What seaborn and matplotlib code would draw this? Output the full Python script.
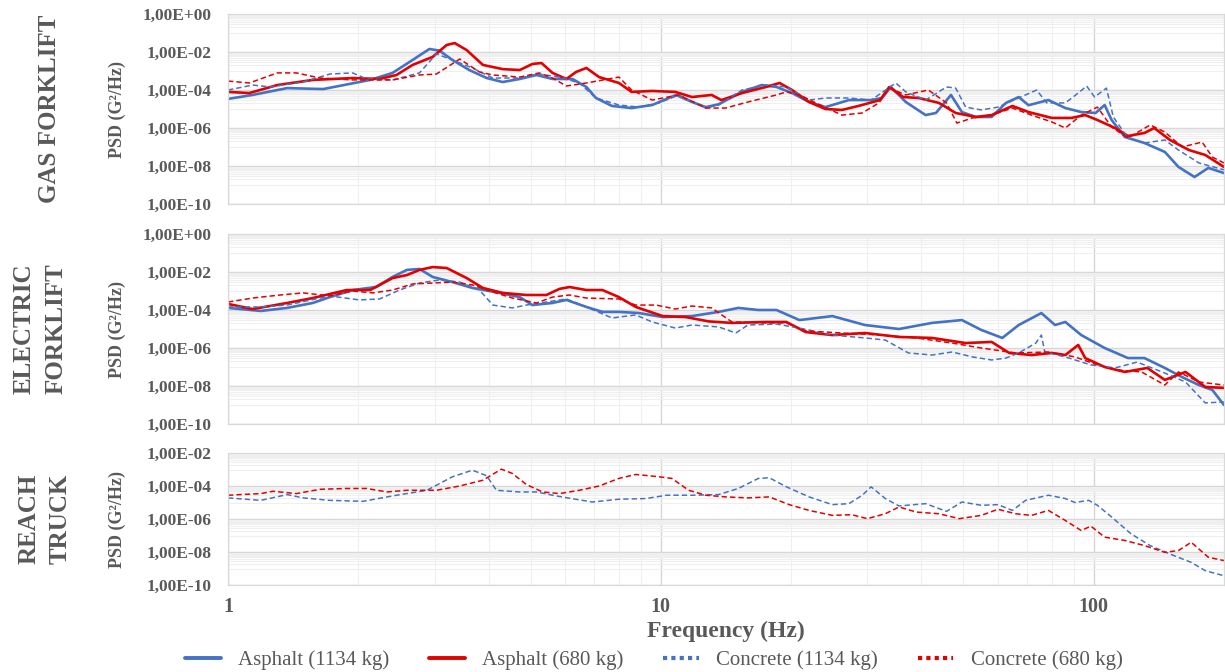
import numpy as np
import pandas as pd
import matplotlib
matplotlib.use("Agg")
import matplotlib.pyplot as plt
from matplotlib.lines import Line2D
import seaborn as sns

sns.set_theme(style="whitegrid")
plt.rcParams["font.family"] = ["Liberation Serif", "DejaVu Serif"]

BLUE = "#4472C4"
RED = "#E30000"
GREY = "#595959"

# ── Data: frequency (Hz) and log10 of PSD (G²/Hz) ──
# GAS FORKLIFT
gas_asph_1134_hz = [1, 1.14, 1.37, 1.66, 1.94, 2.13, 2.4, 2.67, 2.92, 3.08, 3.3, 3.61, 3.96, 4.31, 4.72,
                    5.16, 5.62, 6.25, 6.73, 7.08, 7.71, 8.56, 9.55, 10.84, 11.8, 12.7, 13.6, 15.4, 17.1,
                    18.5, 20.1, 22.0, 24.0, 27.2, 30.6, 32.4, 34.0, 36.8, 40.9, 43.2, 46.8, 49.6, 53.4,
                    58.1, 62.7, 67.1, 70.7, 78.6, 86.0, 93.6, 101, 106, 110, 118, 131, 146, 157, 171, 184, 200]
gas_asph_1134_log = [-4.47, -4.26, -3.9, -3.95, -3.65, -3.47, -3.1, -2.42, -1.84, -1.93, -2.42, -2.95, -3.37,
                     -3.58, -3.42, -3.21, -3.42, -3.42, -3.84, -4.42, -4.84, -4.95, -4.79, -4.26, -4.63, -4.9,
                     -4.75, -4.1, -3.74, -3.84, -4.16, -4.63, -4.9, -4.53, -4.53, -4.42, -3.84, -4.63, -5.32,
                     -5.21, -4.26, -5.16, -5.42, -5.42, -4.68, -4.37, -4.8, -4.53, -4.95, -5.16, -5.21, -4.79,
                     -5.58, -6.47, -6.79, -7.26, -8.05, -8.58, -8.1, -8.37]

gas_asph_680_hz = [1, 1.12, 1.3, 1.57, 1.94, 2.24, 2.45, 2.67, 2.97, 3.2, 3.34, 3.56, 3.88, 4.31, 4.72, 5.05,
                   5.3, 5.62, 6.05, 6.37, 6.73, 7.2, 8.0, 8.56, 9.55, 10.8, 11.8, 13.1, 13.8, 15.4, 17.5,
                   18.8, 20.1, 22.0, 24.0, 26.2, 28.6, 32.1, 33.7, 36.3, 39.4, 43.9, 48.0, 53.4, 58.1, 64.9,
                   70.7, 80.0, 88.8, 95.6, 102, 112, 120, 131, 138, 150, 166, 181, 200]
gas_asph_680_log = [-4.1, -4.16, -3.74, -3.47, -3.37, -3.42, -3.21, -2.68, -2.26, -1.63, -1.53, -1.9, -2.68,
                    -2.9, -2.95, -2.63, -2.58, -3.1, -3.42, -3.05, -2.84, -3.32, -3.63, -4.1, -4.05, -4.1,
                    -4.37, -4.26, -4.53, -4.16, -3.84, -3.63, -4.0, -4.63, -5.0, -5.05, -4.84, -4.53, -3.84,
                    -4.37, -4.42, -4.68, -5.21, -5.42, -5.32, -4.84, -5.16, -5.47, -5.47, -5.32, -5.58, -6.0,
                    -6.42, -6.26, -6.0, -6.63, -7.16, -7.42, -8.05]

gas_conc_1134_hz = [1, 1.14, 1.25, 1.49, 1.72, 1.94, 2.09, 2.4, 2.77, 3.03, 3.3, 3.67, 4.09, 4.72, 5.24,
                    5.83, 6.48, 7.08, 8.0, 8.9, 9.9, 11.0, 12.7, 13.6, 15.4, 17.5, 19.5, 22.0, 24.0, 27.2,
                    30.6, 34.9, 36.8, 40.9, 45.7, 48.0, 50.6, 55.0, 60.1, 67.1, 73.8, 77.9, 86.0, 92.1, 96.3,
                    100.5, 107, 111, 120, 131, 146, 157, 175, 200]
gas_conc_1134_log = [-4.0, -3.74, -3.84, -3.58, -3.16, -3.1, -3.42, -3.47, -3.1, -2.1, -2.42, -2.84, -3.37,
                     -3.37, -3.16, -3.32, -3.63, -4.42, -4.79, -4.9, -4.68, -4.26, -4.95, -4.79, -4.0, -3.74,
                     -3.84, -4.53, -4.42, -4.42, -4.53, -3.63, -4.1, -4.53, -3.84, -3.9, -4.9, -5.05, -4.9,
                     -4.42, -4.0, -4.68, -4.68, -4.16, -3.79, -4.37, -3.9, -5.42, -6.53, -6.79, -6.63, -7.16,
                     -7.84, -8.2]

gas_conc_680_hz = [1, 1.12, 1.3, 1.44, 1.63, 1.94, 2.4, 2.77, 3.03, 3.43, 3.81, 4.09, 4.72, 5.24, 5.62,
                   6.05, 6.73, 8.0, 8.56, 9.55, 11.0, 12.7, 14.1, 15.9, 18.5, 19.5, 20.9, 22.8, 26.2, 29.2,
                   31.9, 33.7, 36.8, 41.5, 45.7, 48.3, 52.5, 58.1, 64.9, 71.8, 80, 86, 93.6, 102, 110, 120,
                   135, 146, 160, 178, 188, 200]
gas_conc_680_log = [-3.53, -3.63, -3.1, -3.1, -3.37, -3.47, -3.47, -3.21, -3.16, -2.37, -3.05, -3.21, -3.32,
                    -3.1, -3.37, -3.79, -3.63, -3.32, -4.0, -4.53, -4.26, -4.95, -4.95, -4.63, -4.26, -4.1,
                    -4.26, -4.68, -5.32, -5.21, -4.68, -3.9, -4.26, -4.0, -4.68, -5.74, -5.47, -5.32, -4.95,
                    -5.32, -5.68, -6.0, -5.32, -4.9, -5.95, -6.53, -5.84, -6.21, -7.0, -6.74, -7.53, -7.84]

# ELECTRIC FORKLIFT
ele_asph_1134_hz = [1, 1.19, 1.37, 1.57, 1.72, 1.94, 2.2, 2.4, 2.59, 2.77, 2.97, 3.3, 3.67, 4.24, 4.72,
                    5.05, 5.62, 6.05, 6.73, 7.33, 8.0, 8.9, 10.1, 11.8, 13.6, 15.1, 16.8, 18.5, 20.9, 24.9,
                    29.6, 35.5, 42.3, 49.6, 55.0, 61.5, 67.1, 75.7, 81.4, 86.0, 93.6, 106, 120, 131, 146,
                    160, 175, 188, 200]
ele_asph_1134_log = [-3.89, -4.05, -3.89, -3.63, -3.32, -2.95, -2.79, -2.26, -1.89, -1.84, -2.26, -2.53,
                     -2.84, -3.1, -3.32, -3.74, -3.63, -3.47, -3.84, -4.1, -4.1, -4.16, -4.37, -4.32, -4.1,
                     -3.89, -4.0, -4.0, -4.53, -4.32, -4.79, -5.0, -4.68, -4.53, -5.05, -5.47, -4.79, -4.16,
                     -4.79, -4.63, -5.32, -6.0, -6.53, -6.53, -7.05, -7.53, -7.95, -8.21, -9.0]

ele_asph_680_hz = [1, 1.14, 1.37, 1.57, 1.88, 2.13, 2.24, 2.4, 2.59, 2.77, 2.97, 3.2, 3.56, 3.88, 4.31,
                   4.89, 5.44, 5.83, 6.15, 6.73, 7.33, 8.0, 8.75, 10.1, 11.4, 12.9, 14.6, 17.5, 19.5, 21.6,
                   24.9, 29.6, 35.5, 42.3, 50.6, 58.1, 63.8, 71.8, 80, 86, 92.1, 95.6, 106, 118, 133, 146,
                   163, 181, 200]
ele_asph_680_log = [-3.68, -3.95, -3.63, -3.37, -2.95, -2.95, -2.68, -2.32, -2.16, -1.89, -1.74, -1.79,
                    -2.32, -2.84, -3.1, -3.21, -3.21, -2.89, -2.79, -2.95, -2.95, -3.32, -3.84, -4.32, -4.37,
                    -4.6, -4.68, -4.63, -4.63, -5.16, -5.32, -5.21, -5.42, -5.47, -5.74, -5.68, -6.26, -6.37,
                    -6.26, -6.37, -5.84, -6.53, -7.0, -7.26, -7.05, -7.68, -7.26, -8.05, -8.1]

ele_conc_1134_hz = [1, 1.19, 1.37, 1.72, 2.01, 2.24, 2.49, 2.77, 3.08, 3.43, 3.81, 4.09, 4.54, 4.89, 5.44,
                    6.05, 6.73, 7.71, 8.75, 9.55, 10.8, 11.8, 13.6, 14.9, 15.9, 18.5, 20.9, 24.9, 29.6, 33.0,
                    37.3, 42.3, 47.1, 52.5, 58.1, 62.7, 67.1, 73.5, 75.7, 77.1, 86.0, 98.5, 112, 126, 146,
                    163, 181, 200]
ele_conc_1134_log = [-3.84, -3.84, -3.74, -3.26, -3.47, -3.42, -2.95, -2.58, -2.42, -2.53, -2.95, -3.74,
                     -3.89, -3.74, -3.58, -3.42, -3.84, -4.42, -4.26, -4.63, -4.95, -4.79, -4.89, -5.21,
                     -4.79, -4.74, -4.95, -5.32, -5.47, -5.58, -6.26, -6.37, -6.21, -6.47, -6.63, -6.53,
                     -6.26, -5.74, -5.32, -6.21, -6.47, -6.89, -7.05, -6.74, -7.32, -7.79, -8.89, -8.84]

ele_conc_680_hz = [1, 1.14, 1.32, 1.49, 1.72, 1.94, 2.16, 2.4, 2.67, 2.97, 3.3, 3.67, 4.09, 4.54, 5.16,
                   5.62, 6.15, 6.73, 8.0, 8.75, 9.75, 10.8, 11.8, 13.1, 14.6, 17.5, 19.5, 21.6, 26.2, 32.4,
                   38.9, 47.1, 55.0, 66.0, 78.6, 90.5, 102, 114, 129, 146, 157, 175, 200]
ele_conc_680_log = [-3.58, -3.37, -3.21, -3.1, -3.26, -3.0, -3.1, -2.95, -2.63, -2.58, -2.53, -2.68, -3.05,
                    -3.37, -3.63, -3.32, -3.21, -3.37, -3.42, -3.74, -3.74, -3.95, -3.79, -3.89, -4.63,
                    -4.68, -4.68, -5.1, -5.21, -5.32, -5.47, -5.74, -6.0, -6.26, -6.21, -6.47, -6.89, -7.16,
                    -7.26, -7.95, -7.26, -7.79, -7.95]

# REACH TRUCK (concrete only)
reach_conc_1134_hz = [1.0, 1.19, 1.37, 1.49, 1.72, 2.05, 2.4, 2.88, 3.3, 3.67, 3.96, 4.17, 4.72, 5.16, 5.62,
                      6.15, 6.95, 8.0, 9.24, 10.3, 11.8, 13.6, 15.1, 16.8, 17.8, 19.5, 22.0, 24.9, 27.2,
                      29.2, 30.6, 33.0, 35.5, 40.9, 45.7, 49.6, 55.0, 60.1, 64.9, 69.6, 78.6, 86.0, 90.5,
                      97.4, 102, 110, 122, 135, 150, 168, 181, 200]
reach_conc_1134_log = [-4.72, -4.87, -4.52, -4.72, -4.87, -4.93, -4.6, -4.26, -3.44, -3.04, -3.38, -4.26,
                       -4.36, -4.36, -4.56, -4.74, -4.97, -4.8, -4.76, -4.56, -4.56, -4.52, -4.15, -3.54,
                       -3.5, -4.05, -4.66, -5.13, -5.07, -4.56, -4.05, -4.76, -5.21, -5.07, -5.54, -4.97,
                       -5.17, -5.13, -5.48, -4.87, -4.56, -4.76, -5.0, -4.87, -5.17, -5.88, -6.9, -7.61,
                       -8.12, -8.63, -9.13, -9.44]

reach_conc_680_hz = [1.0, 1.19, 1.27, 1.44, 1.63, 1.88, 2.09, 2.33, 2.59, 3.03, 3.43, 3.88, 4.28, 4.54, 4.89,
                     5.33, 5.83, 6.48, 7.2, 8.0, 8.75, 9.9, 10.6, 11.6, 12.7, 14.1, 15.9, 17.8, 19.8, 22.0,
                     24.9, 27.6, 30.0, 33.0, 35.5, 38.9, 43.9, 48.9, 55.0, 60.1, 66.0, 71.8, 78.6, 86.0,
                     93.6, 98.5, 106, 118, 131, 146, 157, 168, 184, 200]
reach_conc_680_log = [-4.56, -4.46, -4.32, -4.46, -4.2, -4.15, -4.15, -4.36, -4.26, -4.26, -4.0, -3.65,
                      -2.98, -3.24, -3.91, -4.36, -4.46, -4.26, -4.0, -3.54, -3.3, -3.44, -3.54, -4.26,
                      -4.56, -4.66, -4.72, -4.66, -5.13, -5.48, -5.78, -5.74, -5.98, -5.68, -5.27, -5.58,
                      -5.68, -5.98, -5.78, -5.41, -5.68, -5.78, -5.48, -6.09, -6.7, -6.43, -7.1, -7.3,
                      -7.61, -8.02, -7.91, -7.41, -8.32, -8.52]

row_titles = ["GAS FORKLIFT", "ELECTRIC\nFORKLIFT", "REACH\nTRUCK"]
legend_labels = ["Asphalt (1134 kg)", "Asphalt (680 kg)", "Concrete (1134 kg)", "Concrete (680 kg)"]
x_ticks = [1, 10, 100]
y_exp_full = [0, -2, -4, -6, -8, -10]
y_exp_reach = [-2, -4, -6, -8, -10]

# series style: (color, linewidth, linestyle)
STYLES = {
    "Asphalt (1134 kg)": (BLUE, 1.9, "-"),
    "Asphalt (680 kg)": (RED, 1.9, "-"),
    "Concrete (1134 kg)": (BLUE, 1.1, (0, (3.5, 2))),
    "Concrete (680 kg)": (RED, 1.1, (0, (3.5, 2))),
}

panels = [
    [("Asphalt (1134 kg)", gas_asph_1134_hz, gas_asph_1134_log),
     ("Asphalt (680 kg)", gas_asph_680_hz, gas_asph_680_log),
     ("Concrete (1134 kg)", gas_conc_1134_hz, gas_conc_1134_log),
     ("Concrete (680 kg)", gas_conc_680_hz, gas_conc_680_log)],
    [("Asphalt (1134 kg)", ele_asph_1134_hz, ele_asph_1134_log),
     ("Asphalt (680 kg)", ele_asph_680_hz, ele_asph_680_log),
     ("Concrete (1134 kg)", ele_conc_1134_hz, ele_conc_1134_log),
     ("Concrete (680 kg)", ele_conc_680_hz, ele_conc_680_log)],
    [("Concrete (1134 kg)", reach_conc_1134_hz, reach_conc_1134_log),
     ("Concrete (680 kg)", reach_conc_680_hz, reach_conc_680_log)],
]


def sci_label(e):
    return f"1,00E{e:+03d}"


fig = plt.figure(figsize=(12.25, 6.72), dpi=100)
W, H = 1225, 672
left, right = 228, 1224
boxes = [(14, 204), (234, 424), (453, 585)]
title_x = [50, 40, 45]
axes = []
for top, bot in boxes:
    axes.append(fig.add_axes([left / W, 1 - bot / H, (right - left) / W, (bot - top) / H]))

for i, (ax, series) in enumerate(zip(axes, panels)):
    for name, hz, lg in series:
        df = pd.DataFrame({"freq": hz, "psd": 10 ** np.array(lg)})
        color, lw, ls = STYLES[name]
        sns.lineplot(data=df, x="freq", y="psd", ax=ax, color=color, linewidth=lw,
                     linestyle=ls, estimator=None, sort=False)

    exps = y_exp_reach if i == 2 else y_exp_full
    ax.set_xscale("log")
    ax.set_yscale("log")
    ax.set_xlim(1, 200)
    ax.set_ylim(10.0 ** min(exps), 10.0 ** max(exps))

    major_y = [10.0 ** e for e in exps]
    minor_y = [k * 10.0 ** (e - 1) for e in exps[:-1] for k in range(1, 10)]
    ax.set_yticks(major_y, labels=[sci_label(e) for e in exps],
                  fontweight="bold", fontsize=12.5, color=GREY)
    ax.set_yticks(minor_y, minor=True)
    ax.set_yticklabels([], minor=True)

    minor_x = [k * d for d in (1, 10) for k in range(2, 10)] + [200]
    ax.set_xticks(x_ticks, labels=[str(t) for t in x_ticks] if i == 2 else ["", "", ""],
                  fontweight="bold", fontsize=14.5, color=GREY)
    ax.set_xticks(minor_x, minor=True)
    ax.set_xticklabels([], minor=True)
    ax.set_xlim(1, 200)

    ax.tick_params(which="both", length=0)
    ax.tick_params(axis="y", pad=12)
    ax.tick_params(axis="x", pad=9)
    ax.grid(which="major", color="#d6d6d6", linewidth=1.0)
    ax.grid(which="minor", color="#efefef", linewidth=0.8)
    ax.set_axisbelow(True)
    for sp in ax.spines.values():
        sp.set_color("#d9d9d9")
        sp.set_linewidth(0.9)

    ax.set_ylabel("PSD (G²/Hz)", fontsize=13, fontweight="bold", color=GREY, va="center")
    ax.yaxis.set_label_coords((117 - left) / (right - left), 0.5)
    ax.set_xlabel("")

    top, bot = boxes[i]
    fig.text(title_x[i] / W, 1 - (top + bot) / 2 / H, row_titles[i], rotation=90, ha="center",
             va="center", multialignment="center", fontsize=18, fontweight="bold",
             color=GREY, linespacing=1.45)

ax3 = axes[2]
ax3.set_xlabel("Frequency (Hz)", fontsize=17, fontweight="bold", color=GREY, va="center")
ax3.xaxis.set_label_coords(0.5, -(631 - 585) / (585 - 453))

handles = [
    Line2D([], [], color=BLUE, lw=2.8, linestyle="-"),
    Line2D([], [], color=RED, lw=2.8, linestyle="-"),
    Line2D([], [], color=BLUE, lw=3.0, linestyle=(0, (1, 1))),
    Line2D([], [], color=RED, lw=3.0, linestyle=(0, (1, 1))),
]
leg = fig.legend(handles, legend_labels, loc="center", bbox_to_anchor=(654 / W, 1 - 660 / H),
                 ncol=4, frameon=False, fontsize=15, handlelength=1.7, handletextpad=0.85,
                 columnspacing=1.9)
for t in leg.get_texts():
    t.set_color(GREY)

fig.savefig("out.png", dpi=100, facecolor="white")
